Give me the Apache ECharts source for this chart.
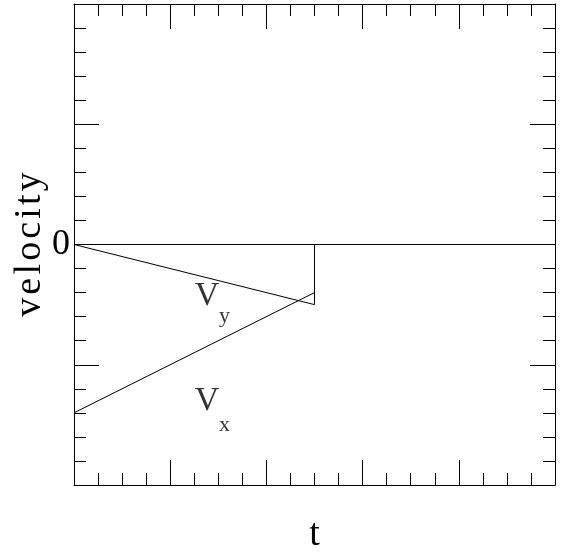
<!DOCTYPE html>
<html>
<head>
<meta charset="utf-8">
<script src="https://cdn.jsdelivr.net/npm/echarts@6/dist/echarts.min.js"></script>
<style>html,body{margin:0;padding:0;background:#fff}#c{width:561px;height:554px}</style>
</head>
<body>
<div id="c"></div>
<script>
// Data
var zeroLine = [[0, 0], [1, 0]];
var vyLine = [[0, 0], [0.5, -0.25], [0.5, 0]];
var vxLine = [[0, -0.7], [0.5, -0.2]];
var bigLabels = [{ text: 'V', value: [0.2765, -0.214] }, { text: 'V', value: [0.2765, -0.65] }];
var subLabels = [{ text: 'y', value: [0.313, -0.3] }, { text: 'x', value: [0.313, -0.752] }];
var xName = 't';
var yName = 'velocity';
var yTickLabels = { '0': '0' };

var FONT = 'Liberation Serif';
var HAIR = '\u200A';
var chart = echarts.init(document.getElementById('c'), null, { renderer: 'canvas' });

function xAx(pos, name) {
  return {
    type: 'value', position: pos, min: 0, max: 1, interval: 0.2,
    name: name, nameLocation: 'middle', nameGap: 31, nameMoveOverlap: false,
    nameTextStyle: { fontFamily: FONT, fontSize: 38, color: '#000' },
    axisLine: { show: true, onZero: false, lineStyle: { color: '#000', width: 1 } },
    axisTick: { show: true, inside: true, length: 25, lineStyle: { color: '#000', width: 1 } },
    minorTick: { show: true, splitNumber: 4, length: 12, lineStyle: { color: '#000', width: 1 } },
    axisLabel: { show: false },
    splitLine: { show: false }, minorSplitLine: { show: false }
  };
}
function yAx(pos, name, showLabel) {
  return {
    type: 'value', position: pos, min: -1, max: 1, interval: 0.5,
    name: name, nameLocation: 'middle', nameGap: 25, nameRotate: 90, nameMoveOverlap: false,
    nameTextStyle: { fontFamily: FONT, fontSize: 38, color: '#000' },
    axisLine: { show: true, onZero: false, lineStyle: { color: '#000', width: 1 } },
    axisTick: { show: true, inside: true, length: 25, lineStyle: { color: '#000', width: 1 } },
    minorTick: { show: true, splitNumber: 5, length: 12, lineStyle: { color: '#000', width: 1 } },
    axisLabel: {
      show: showLabel, inside: false, margin: 4,
      fontFamily: FONT, fontSize: 36, color: '#000',
      formatter: function (v) { return yTickLabels[String(v)] || ''; }
    },
    splitLine: { show: false }, minorSplitLine: { show: false }
  };
}

function lineSeries(d) {
  return {
    type: 'line', data: d, symbol: 'none', silent: true, animation: false,
    lineStyle: { color: '#000', width: 1 }
  };
}
function textSeries(d, size) {
  return {
    type: 'scatter', symbolSize: 0, silent: true, animation: false,
    data: d.map(function (o) { return { value: o.value, name: o.text }; }),
    label: {
      show: true, position: 'inside', formatter: '{b}',
      fontFamily: FONT, fontSize: size, color: '#000'
    }
  };
}

chart.setOption({
  animation: false,
  backgroundColor: '#fff',
  grid: { left: 74, right: 6, top: 4, bottom: 69, containLabel: false, outerBoundsMode: 'none' },
  xAxis: [xAx('bottom', xName), xAx('top', '')],
  yAxis: [yAx('left', yName.split('').join(HAIR), true), yAx('right', '', false)],
  series: [
    lineSeries(zeroLine), lineSeries(vyLine), lineSeries(vxLine),
    textSeries(bigLabels, 34), textSeries(subLabels, 22)
  ]
});
</script>
</body>
</html>
